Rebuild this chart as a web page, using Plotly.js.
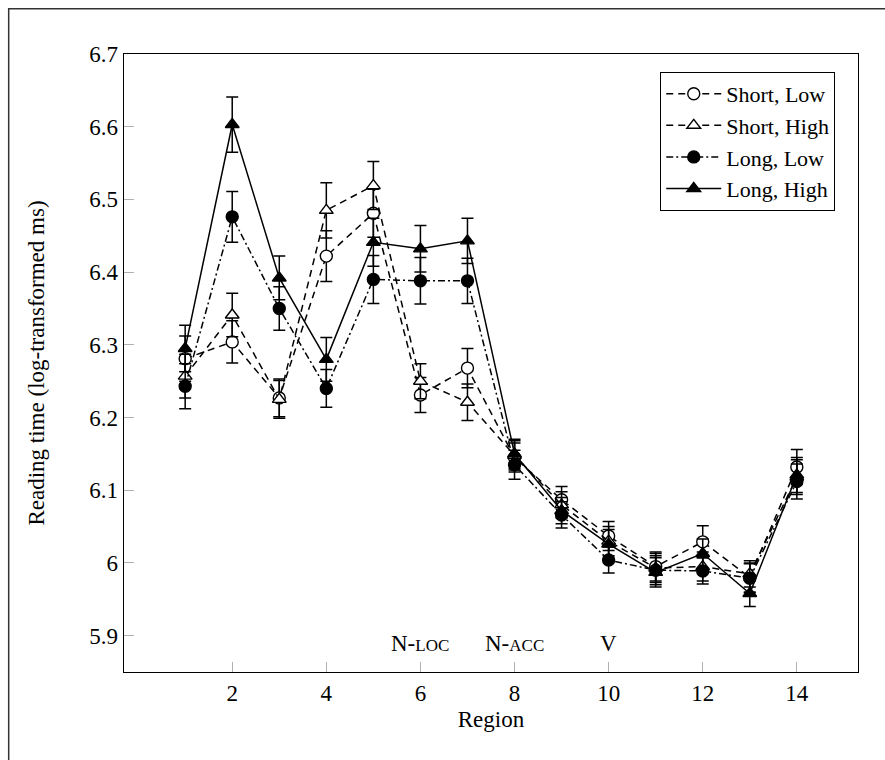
<!DOCTYPE html>
<html>
<head>
<meta charset="utf-8">
<script src="https://cdn.plot.ly/plotly-3.0.1.min.js"></script>
<style>html,body{margin:0;padding:0;background:#fff;}#chart{width:885px;height:760px;}</style>
</head>
<body>
<div id="chart"></div>
<script>
const regions = [1,2,3,4,5,6,7,8,9,10,11,12,13,14];
const shortLow   = [6.281, 6.304, 6.227, 6.422, 6.481, 6.231, 6.268, 6.145, 6.087, 6.037, 5.995, 6.029, 5.980, 6.132];
const shortLowErr  = [0.031, 0.029, 0.026, 0.035, 0.033, 0.024, 0.027, 0.020, 0.018, 0.020, 0.020, 0.022, 0.020, 0.024];
const shortHigh  = [6.257, 6.341, 6.225, 6.485, 6.519, 6.250, 6.221, 6.148, 6.080, 6.030, 5.993, 5.995, 5.985, 6.118];
const shortHighErr = [0.030, 0.030, 0.026, 0.038, 0.033, 0.024, 0.025, 0.020, 0.018, 0.020, 0.020, 0.020, 0.018, 0.024];
const longLow    = [6.243, 6.476, 6.350, 6.240, 6.390, 6.388, 6.388, 6.135, 6.066, 6.004, 5.990, 5.989, 5.979, 6.112];
const longLowErr   = [0.031, 0.035, 0.030, 0.026, 0.033, 0.032, 0.031, 0.020, 0.018, 0.018, 0.020, 0.018, 0.020, 0.024];
const longHigh   = [6.295, 6.603, 6.392, 6.280, 6.441, 6.432, 6.443, 6.150, 6.072, 6.026, 5.987, 6.013, 5.958, 6.121];
const longHighErr  = [0.032, 0.038, 0.030, 0.030, 0.033, 0.032, 0.031, 0.020, 0.018, 0.020, 0.020, 0.020, 0.018, 0.024];
const seriesNames = ["Short, Low", "Short, High", "Long, Low", "Long, High"];
const xTickVals = [2,4,6,8,10,12,14];
const xTickText = ["2","4","6","8","10","12","14"];
const yTickVals = [5.9,6.0,6.1,6.2,6.3,6.4,6.5,6.6,6.7];
const yTickText = ["5.9","6","6.1","6.2","6.3","6.4","6.5","6.6","6.7"];
const regionLabelX = [6, 8, 10];
const regionLabelText = ["N-<span style='font-size:17px'>LOC</span>", "N-<span style='font-size:17px'>ACC</span>", "V"];

const font = "Liberation Serif, Times New Roman, serif";
const fs = 23;
function err(a){ return {type:'data', array:a, visible:true, color:'#000', thickness:1.5, width:6}; }
function tr(y, e, name, dash, symbol, fill){
  return {x: regions, y: y, name: name, type:'scatter', mode:'lines+markers',
    line:{color:'#000', width:1.5, dash:dash},
    marker:{symbol:symbol, size:12, color: fill, line:{color:'#000', width:1.4}},
    error_y: err(e)};
}
const data = [
  tr(shortLow, shortLowErr, seriesNames[0], '7px,5px', 'circle', '#fff'),
  tr(shortHigh, shortHighErr, seriesNames[1], '7px,5px', 'triangle-up', '#fff'),
  tr(longLow, longLowErr, seriesNames[2], '7px,3px,2px,3px', 'circle', '#000'),
  tr(longHigh, longHighErr, seriesNames[3], 'solid', 'triangle-up', '#000')
];

const annotations = regionLabelX.map((x,i)=>({
  x: x, xref:'x', y: 0, yref:'paper', yanchor:'bottom', yshift: 14,
  text: regionLabelText[i], showarrow:false, font:{family:font, size:fs, color:'#000'}
}));

const layout = {
  width: 885, height: 760,
  margin: {l:124, r:27, t:54, b:88},
  paper_bgcolor:'#fff', plot_bgcolor:'#fff',
  showlegend: true,
  legend: {x:0.969, y:0.971, xanchor:'right', yanchor:'top', bordercolor:'#000', borderwidth:1,
    bgcolor:'#fff', font:{family:font, size:22, color:'#000'}, tracegroupgap:0, itemwidth:55},
  xaxis: {range:[-0.3, 15.3], tickvals:[...xTickVals, ...regionLabelX], ticktext:[...xTickText, "", "", ""],
    ticks:'inside', ticklen:10, tickcolor:'#b0b0b0', tickwidth:1,
    showgrid:false, zeroline:false, showline:true, linecolor:'#000', linewidth:1.3, mirror:true,
    tickfont:{family:font, size:fs, color:'#000'},
    title:{text:'Region', font:{family:font, size:fs, color:'#000'}, standoff:6}},
  yaxis: {range:[5.85, 6.7], tickvals:yTickVals, ticktext:yTickText,
    ticks:'inside', ticklen:10, tickcolor:'#b0b0b0', tickwidth:1,
    showgrid:false, zeroline:false, showline:true, linecolor:'#000', linewidth:1.3, mirror:true,
    tickfont:{family:font, size:fs, color:'#000'},
    title:{text:'Reading time (log-transformed ms)', font:{family:font, size:fs, color:'#000'}, standoff:38}},
  annotations: annotations,
  shapes: [{type:'rect', xref:'paper', yref:'paper', x0:-0.1571, x1:1.6, y0:-0.6, y1:1.0733,
    line:{color:'#333', width:1.5}, fillcolor:'rgba(0,0,0,0)', layer:'below'}]
};
Plotly.newPlot('chart', data, layout, {displayModeBar:false, staticPlot:true});
</script>
</body>
</html>
